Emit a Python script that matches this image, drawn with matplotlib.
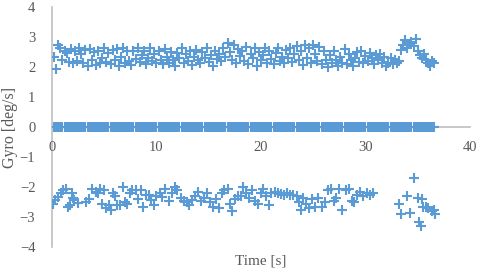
import matplotlib.pyplot as plt

# ---- gyro samples ----
# upper band (positive readings), one sample every ~0.2 s
time_pos = [
    0.2, 0.4, 0.6, 0.8, 1.0, 1.2, 1.4, 1.6, 1.8, 2.0,
    2.2, 2.4, 2.6, 2.8, 3.0, 3.2, 3.4, 3.6, 3.8, 4.0,
    4.2, 4.4, 4.6, 4.8, 5.0, 5.2, 5.4, 5.6, 5.8, 6.0,
    6.2, 6.4, 6.6, 6.8, 7.0, 7.2, 7.4, 7.6, 7.8, 8.0,
    8.2, 8.4, 8.6, 8.8, 9.0, 9.2, 9.4, 9.6, 9.8, 10.0,
    10.2, 10.4, 10.6, 10.8, 11.0, 11.2, 11.4, 11.6, 11.8, 12.0,
    12.2, 12.4, 12.6, 12.8, 13.0, 13.2, 13.4, 13.6, 13.8, 14.0,
    14.2, 14.4, 14.6, 14.8, 15.0, 15.2, 15.4, 15.6, 15.8, 16.0,
    16.2, 16.4, 16.6, 16.8, 17.0, 17.2, 17.4, 17.6, 17.8, 18.0,
    18.2, 18.4, 18.6, 18.8, 19.0, 19.2, 19.4, 19.6, 19.8, 20.0,
    20.2, 20.4, 20.6, 20.8, 21.0, 21.2, 21.4, 21.6, 21.8, 22.0,
    22.2, 22.4, 22.6, 22.8, 23.0, 23.2, 23.4, 23.6, 23.8, 24.0,
    24.2, 24.4, 24.6, 24.8, 25.0, 25.2, 25.4, 25.6, 25.8, 26.0,
    26.2, 26.4, 26.6, 26.8, 27.0, 27.2, 27.4, 27.6, 27.8, 28.0,
    28.2, 28.4, 28.6, 28.8, 29.0, 29.2, 29.4, 29.6, 29.8, 30.0,
    30.2, 30.4, 30.6, 30.8, 31.0, 31.2, 31.4, 31.6, 31.8, 32.0,
    32.2, 32.4, 32.6, 32.8, 33.0, 33.2, 33.4, 33.6, 33.8, 34.0,
    34.2, 34.4, 34.6, 34.8, 35.0, 35.2, 35.4, 35.6, 35.8, 36.0,
    36.2, 36.4, 36.6,
]
gyro_pos = [
    2.33, 1.92, 2.75, 2.62, 2.22, 2.55, 2.48, 2.18, 2.60, 2.12,
    2.52, 2.20, 2.62, 2.45, 2.15, 2.58, 2.05, 2.60, 2.25, 2.50,
    2.08, 2.55, 2.12, 2.30, 2.62, 2.18, 2.48, 2.10, 2.58, 2.25,
    2.60, 2.05, 2.35, 2.62, 2.15, 2.52, 2.20, 2.08, 2.55, 2.28,
    2.62, 2.18, 2.40, 2.55, 2.10, 2.30, 2.62, 2.20, 2.45, 2.12,
    2.55, 2.25, 2.10, 2.60, 2.35, 2.15, 2.50, 2.22, 2.05, 2.48,
    2.30, 2.62, 2.15, 2.42, 2.20, 2.55, 2.08, 2.35, 2.58, 2.25,
    2.12, 2.50, 2.30, 2.65, 2.18, 2.40, 2.05, 2.55, 2.28, 2.45,
    2.20, 2.62, 2.35, 2.80, 2.50, 2.25, 2.72, 2.15, 2.60, 2.38,
    2.55, 2.20, 2.68, 2.10, 2.45, 2.30, 2.62, 2.05, 2.50, 2.22,
    2.40, 2.62, 2.15, 2.55, 2.28, 2.10, 2.48, 2.65, 2.20, 2.35,
    2.12, 2.58, 2.30, 2.62, 2.18, 2.45, 2.70, 2.25, 2.55, 2.08,
    2.75, 2.30, 2.62, 2.15, 2.75, 2.45, 2.20, 2.68, 2.10, 2.55,
    2.25, 2.00, 2.40, 2.12, 2.55, 2.22, 2.05, 2.35, 2.15, 2.60,
    2.10, 2.45, 2.22, 2.05, 2.30, 2.50, 2.18, 2.55, 2.12, 2.38,
    2.20, 2.48, 2.30, 2.10, 2.40, 2.22, 2.45, 2.15, 2.35, 2.05,
    2.15, 2.30, 2.10, 2.25, 2.12, 2.20, 2.58, 2.72, 2.90, 2.62,
    2.78, 2.85, 2.70, 2.92, 2.55, 2.40, 2.30, 2.45, 2.25, 2.15,
    2.05, 2.20, 2.12,
]

# lower band (negative readings); nothing recorded between ~31 s and ~33 s
time_neg = [
    0.1, 0.3, 0.6, 0.9, 1.1, 1.3, 1.5, 1.7, 1.9, 2.0,
    2.1, 2.5, 3.3, 3.5, 3.8, 4.2, 4.4, 4.6, 4.8, 5.0,
    5.2, 5.5, 5.6, 5.8, 6.0, 6.2, 6.5, 6.8, 7.0, 7.2,
    7.5, 7.7, 8.0, 8.2, 8.5, 8.7, 9.0, 9.3, 9.5, 9.8,
    10.0, 10.3, 10.5, 10.8, 11.2, 11.5, 11.8, 12.0, 12.3, 12.6,
    12.9, 13.1, 13.4, 13.7, 14.0, 14.3, 14.5, 14.8, 15.1, 15.4,
    15.7, 16.0, 16.3, 16.5, 16.8, 17.0, 17.2, 17.5, 17.8, 18.1,
    18.3, 18.6, 18.9, 19.1, 19.4, 19.7, 20.0, 20.2, 20.5, 20.8,
    21.0, 21.3, 21.6, 21.9, 22.2, 22.5, 22.8, 23.1, 23.4, 23.6,
    23.8, 24.0, 24.3, 24.6, 24.9, 25.2, 25.5, 25.8, 26.1, 26.4,
    26.7, 27.0, 27.2, 27.5, 27.8, 28.1, 28.4, 28.7, 28.9, 29.2,
    29.5, 29.8, 30.1, 30.4, 30.7, 33.2, 33.4, 34.0, 34.3, 34.6,
    35.0, 35.1, 35.3, 35.4, 35.5, 35.8, 36.0, 36.4, 36.6, 36.7,
]
gyro_neg = [
    -2.55, -2.43, -2.33, -2.20, -2.10, -2.05, -2.65, -2.60, -2.20, -2.35,
    -2.43, -2.53, -2.50, -2.40, -2.05, -2.15, -2.20, -2.05, -2.55, -2.10,
    -2.70, -2.60, -2.78, -2.20, -2.30, -2.60, -2.60, -2.00, -2.50, -2.55,
    -2.20, -2.10, -2.10, -2.40, -2.10, -2.65, -2.25, -2.28, -2.43, -2.60,
    -2.30, -2.20, -2.33, -2.05, -2.45, -2.20, -2.00, -2.10, -2.35, -2.45,
    -2.50, -2.60, -2.42, -2.30, -2.15, -2.45, -2.35, -2.20, -2.50, -2.65,
    -2.40, -2.70, -2.20, -2.10, -2.05, -2.55, -2.80, -2.40, -2.30, -2.30,
    -2.00, -2.20, -2.35, -2.10, -2.45, -2.55, -2.20, -2.05, -2.30, -2.60,
    -2.20, -2.15, -2.20, -2.22, -2.25, -2.20, -2.28, -2.25, -2.30, -2.50,
    -2.75, -2.35, -2.55, -2.70, -2.40, -2.65, -2.35, -2.65, -2.50, -2.10,
    -2.07, -2.45, -2.35, -2.05, -2.75, -2.10, -2.05, -2.45, -2.50, -2.25,
    -2.15, -2.30, -2.20, -2.25, -2.20, -2.55, -2.90, -2.30, -2.85, -1.70,
    -2.35, -3.15, -3.30, -2.40, -2.65, -2.65, -2.70, -2.80, -2.75, -2.90,
]

# zero readings logged at every sample time
gyro_zero = [0.0] * len(time_pos)

BLUE = "#5B9BD5"
GREY = "#BFBFBF"
TEXT = "#595959"

plt.rcParams["font.family"] = ["Liberation Serif", "DejaVu Serif"]

fig = plt.figure(figsize=(4.8, 2.73), dpi=100)
ax = fig.add_axes([0.1083, 0.0952, 0.8708, 0.879])

marker_kw = dict(linestyle="none", marker="+", color=BLUE, markersize=6.5, markeredgewidth=1.5)
ax.plot(time_pos, gyro_pos, **marker_kw)
ax.plot(time_pos, gyro_zero, **marker_kw)
ax.plot(time_neg, gyro_neg, **marker_kw)

ax.set_xlim(0, 40)
ax.set_ylim(-4, 4)
ax.set_xticks([0, 10, 20, 30, 40])
ax.set_yticks([-4, -3, -2, -1, 0, 1, 2, 3, 4])

# x axis crosses at y = 0, Excel style
ax.spines["bottom"].set_position(("data", 0))
for side in ("top", "right"):
    ax.spines[side].set_visible(False)
for side in ("left", "bottom"):
    ax.spines[side].set_color(GREY)
    ax.spines[side].set_linewidth(1.2)
    ax.spines[side].set_zorder(0)

ax.tick_params(axis="both", length=0, labelsize=10.5, colors=TEXT)
ax.tick_params(axis="x", pad=10)
ax.tick_params(axis="y", pad=12)

ax.set_xlabel("Time [s]", fontsize=11, color=TEXT)
ax.set_ylabel("Gyro [deg/s]", fontsize=11.5, color=TEXT)
ax.xaxis.set_label_coords(0.5, -0.03)
ax.yaxis.set_label_coords(-0.082, 0.5)

fig.savefig("out.png", dpi=100)
